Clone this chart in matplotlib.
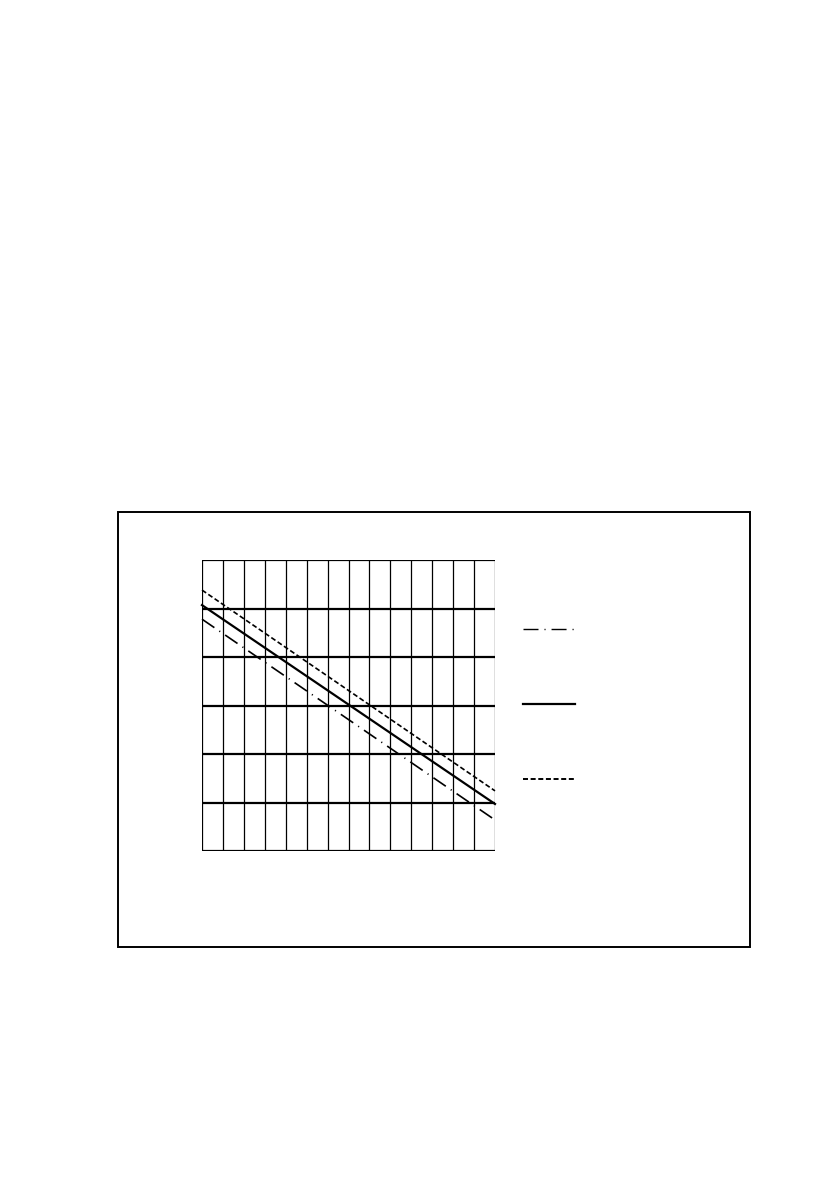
import matplotlib
matplotlib.use("Agg")
import matplotlib.pyplot as plt
from matplotlib.lines import Line2D
from matplotlib.patches import Rectangle

plt.rcParams['lines.scale_dashes'] = False

# grid extent (columns x rows)
n_cols = 14
n_rows = 6

# three straight lines, end values
x_ends = [0, 14]
upper_dashed = [5.38, 1.24]
middle_solid = [5.07, 0.97]
lower_dashdot = [4.78, 0.64]

dashdot = (0, (10.8, 4.3, 0.8, 4.3))
dashed = (0, (3.6, 1.9))

fig = plt.figure(figsize=(8.39, 11.91), dpi=100)

# outer frame
W, H = 839, 1191
fig.add_artist(Rectangle((118 / W, 1 - 947 / H), (750 - 118) / W, (947 - 512) / H,
                         transform=fig.transFigure, fill=False, lw=1.4, ec='black'))

ax = fig.add_axes([202 / W, 1 - 851 / H, 293 / W, 291 / H])
ax.set_xlim(0, n_cols)
ax.set_ylim(0, n_rows)
for i in range(n_cols + 1):
    ax.axvline(i, color='black', lw=0.9, zorder=1)
for j in range(n_rows + 1):
    ax.axhline(j, color='black', lw=1.6, zorder=1)
ax.set_xticks([])
ax.set_yticks([])
for s in ax.spines.values():
    s.set_visible(False)

ax.plot(x_ends, lower_dashdot, color='black', lw=1.2, linestyle=dashdot, zorder=3, clip_on=False)
ax.plot(x_ends, middle_solid, color='black', lw=1.6, zorder=3, clip_on=False)
ax.plot(x_ends, upper_dashed, color='black', lw=1.2, linestyle=dashed, zorder=3, clip_on=False)

# legend samples (no text in the reference)
for y_px, ls, lw in [(629, dashdot, 1.0), (704, '-', 1.6), (779, dashed, 1.4)]:
    fig.add_artist(Line2D([523 / W, 575 / W], [1 - y_px / H, 1 - y_px / H],
                          transform=fig.transFigure, color='black', lw=lw, linestyle=ls))

fig.savefig('out.png', dpi=100)
